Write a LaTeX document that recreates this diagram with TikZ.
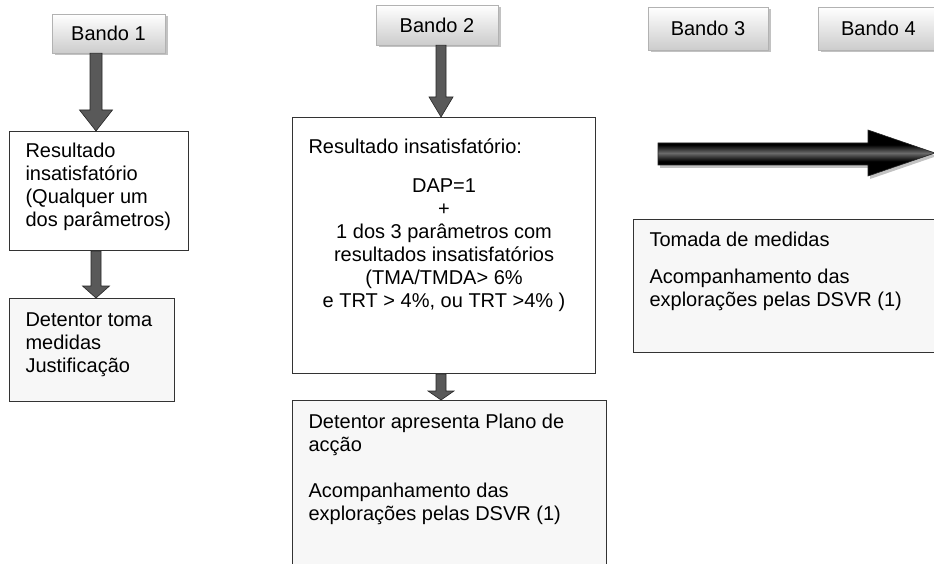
\documentclass[tikz,border=0pt]{standalone}
\usepackage{fontspec}
\setmainfont{Liberation Sans}
\usetikzlibrary{calc,shadows,positioning}

% text block of a box: fixed size, top aligned
\newcommand{\cellbox}[3]{\parbox[c][#2][t]{#1}{\raggedright #3}}
% thick down arrow: from, to, axis, half shaft, half head, head length
\newcommand{\bandarrow}[6]{%
  \draw[downarrow] let \p1=(#3), \p2=(#1.south), \p3=(#2.north) in
    (\x1-#4,\y2) -- (\x1-#4,\y3+#6) -- (\x1-#5,\y3+#6) -- (\x1,\y3)
    -- (\x1+#5,\y3+#6) -- (\x1+#4,\y3+#6) -- (\x1+#4,\y2) -- cycle;}

\pgfdeclareverticalshading{arrowshade}{100bp}{color(0bp)=(black);
  color(41bp)=(black); color(50bp)=(black!58); color(59bp)=(black);
  color(100bp)=(black)}

\tikzset{
  band/.style={draw=black!30, top color=white, bottom color=black!20,
    minimum width=120pt, minimum height=42pt, inner sep=0pt,
    drop shadow={shadow xshift=2.5pt, shadow yshift=-2.5pt, fill=black!40, opacity=0.6}},
  stepbox/.style={draw=black!80, line width=1.1pt, fill=white,
    anchor=north west, inner xsep=16pt},
  greybox/.style={stepbox, fill=black!3},
  downarrow/.style={fill=black!65, draw=black!85, line width=0.6pt},
  bigarrow/.style={draw=black!85, line width=0.6pt, shading=arrowshade,
    drop shadow={shadow xshift=2pt, shadow yshift=-3pt, fill=black!40, opacity=0.6}}
}

\begin{document}
\begin{tikzpicture}[x=1pt, y=-1pt, font=\fontsize{20}{23}\selectfont]
  \useasboundingbox (0,0) rectangle (934,564);
  \clip (0,0) rectangle (934,564);

  % bands
  \node[band, minimum width=113pt, minimum height=39pt] (b1) at (108.5,33.5) {Bando 1};
  \node[band, minimum width=122pt, minimum height=40pt] (b2) at (437,25) {Bando 2};
  \node[band, minimum height=43pt] (b3) at (708,28.5) {Bando 3};
  \node[band, minimum height=43pt, right=50pt of b3] (b4) {Bando 4};

  % band 1
  \node[stepbox, inner ysep=11.5pt] (r1) at (9,131)
    {\cellbox{147pt}{96pt}{Resultado\\insatisfatório\\(Qualquer um\\dos parâmetros)}};
  \node[greybox, inner ysep=14.5pt] (d1) at (9,298)
    {\cellbox{133pt}{74pt}{Detentor toma\\medidas\\Justificação}};

  % band 2
  \node[stepbox, inner ysep=21.5pt] (r2) at (292,117)
    {\cellbox{271pt}{213pt}{Resultado insatisfatório:\par\vspace{16pt}\centering
      DAP=1\\+\\1 dos 3 parâmetros com\\resultados insatisfatórios\\(TMA/TMDA> 6\%\\e TRT > 4\%, ou TRT >4\% )}};
  \node[greybox, inner ysep=13.5pt] (d2) at (292,400)
    {\cellbox{282pt}{180pt}{Detentor apresenta Plano de\\acção\par\vspace{23pt}
      Acompanhamento das\\explorações pelas DSVR (1)}};

  % bands 3 and 4
  \node[greybox, inner ysep=12.5pt] (t) at (633,219)
    {\cellbox{300pt}{108pt}{Tomada de medidas\par\vspace{14pt}
      Acompanhamento das\\explorações pelas DSVR (1)}};

  % arrows
  \coordinate (col1) at (96,0);
  \coordinate (col2) at (441,0);
  \bandarrow{b1}{r1}{col1}{6pt}{16.5pt}{21pt}
  \bandarrow{r1}{d1}{col1}{5pt}{13.5pt}{12pt}
  \bandarrow{b2}{r2}{col2}{5pt}{12pt}{20pt}
  \bandarrow{r2}{d2}{col2}{5pt}{13pt}{9pt}
  \draw[bigarrow] (658,143) -- (868,143) -- (868,130) -- (935,153)
    -- (868,176) -- (868,165) -- (658,165) -- cycle;
\end{tikzpicture}
\end{document}
